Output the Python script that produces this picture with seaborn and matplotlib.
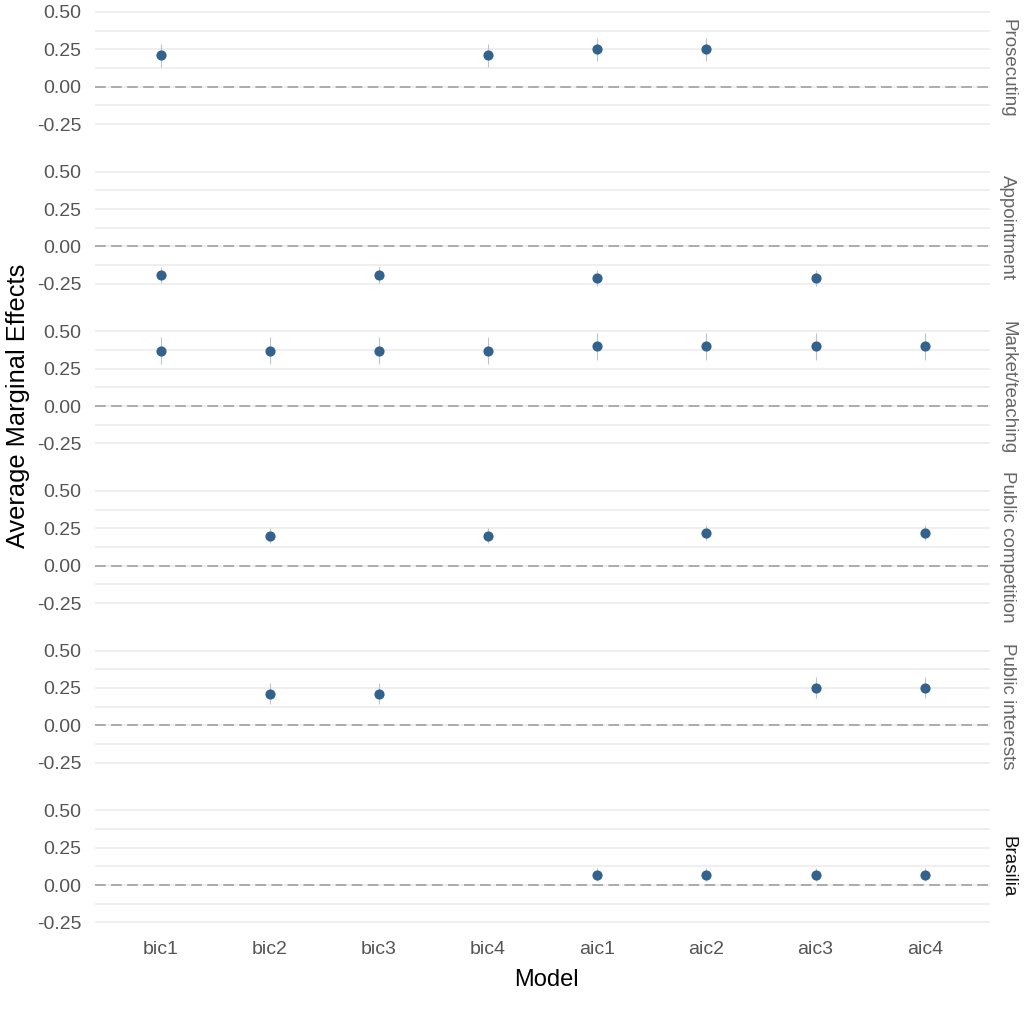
import numpy as np
import pandas as pd
import matplotlib
matplotlib.use("Agg")
import matplotlib.pyplot as plt
import seaborn as sns

nan = np.nan
models = ["bic1", "bic2", "bic3", "bic4", "aic1", "aic2", "aic3", "aic4"]
facets = ["Prosecuting", "Appointment", "Market/teaching",
          "Public competition", "Public interests", "Brasilia"]

prosecuting = [0.21, nan, nan, 0.21, 0.25, 0.25, nan, nan]
appointment = [-0.19, nan, -0.19, nan, -0.21, nan, -0.21, nan]
market_teaching = [0.37, 0.37, 0.37, 0.37, 0.40, 0.40, 0.40, 0.40]
public_competition = [nan, 0.20, nan, 0.20, nan, 0.22, nan, 0.22]
public_interests = [nan, 0.21, 0.21, nan, nan, nan, 0.25, 0.25]
brasilia = [nan, nan, nan, nan, 0.07, 0.07, 0.07, 0.07]
# half width of the confidence interval, one per facet
ci_half = [0.075, 0.055, 0.09, 0.05, 0.07, 0.045]

estimates = [prosecuting, appointment, market_teaching,
             public_competition, public_interests, brasilia]

rows = []
for term, vals, h in zip(facets, estimates, ci_half):
    for m, v in zip(models, vals):
        if not np.isnan(v):
            rows.append({"term": term, "model": m, "ame": v,
                         "lo": v - h, "hi": v + h})
df = pd.DataFrame(rows)

sns.set_theme(style="white")
plt.rcParams["font.family"] = ["Liberation Sans", "DejaVu Sans"]

point_col = "#33638d"
grid_col = "#ebebeb"

g = sns.FacetGrid(df, row="term", row_order=facets, sharex=True, sharey=True,
                  height=1.7, aspect=6)
g.map_dataframe(sns.pointplot, x="model", y="ame", order=models,
                linestyle="none", errorbar=None, color=point_col,
                markersize=5.3)

for ax, term in zip(g.axes.flat, facets):
    sub = df[df["term"] == term]
    xpos = [models.index(m) for m in sub["model"]]
    ax.vlines(xpos, sub["lo"], sub["hi"], color="#b8c5d1", lw=0.8, zorder=1)
    ax.set_ylim(-0.30, 0.55)
    ax.set_xlim(-0.6, 7.6)
    ax.set_yticks([-0.25, 0, 0.25, 0.5])
    ax.set_yticklabels(["-0.25", "0.00", "0.25", "0.50"])
    ax.set_yticks([-0.125, 0.125, 0.375], minor=True)
    ax.grid(axis="y", which="both", color=grid_col, lw=1.1)
    ax.grid(axis="x", visible=False)
    ax.set_axisbelow(True)
    ax.axhline(0, color="#9a9a9a", lw=1.1, ls=(0, (7, 3.5)), zorder=1.5)
    for s in ax.spines.values():
        s.set_visible(False)
    ax.tick_params(axis="both", length=0, labelsize=14, labelcolor="#555555")
    ax.tick_params(axis="y", pad=10)
    ax.tick_params(axis="x", pad=8)
    ax.tick_params(axis="y", which="minor", length=0)
    ax.set_title("")
    ax.set_xlabel("")
    ax.set_ylabel("")
    strip_col = "#111111" if term == "Brasilia" else "#666666"
    ax.text(1.01, 0.5, term, transform=ax.transAxes, rotation=-90,
            ha="left", va="center", fontsize=13.5, color=strip_col)

g.figure.set_size_inches(10.24, 10.13)
g.figure.subplots_adjust(left=0.093, right=0.967, top=0.9956, bottom=0.082,
                         hspace=0.255)
g.figure.text(0.0176, 0.599, "Average Marginal Effects", rotation=90,
              ha="center", va="center", fontsize=18.3, color="black")
g.figure.text(0.534, 0.033, "Model", ha="center", va="center",
              fontsize=17, color="black")

g.figure.savefig("out.png", dpi=100)
